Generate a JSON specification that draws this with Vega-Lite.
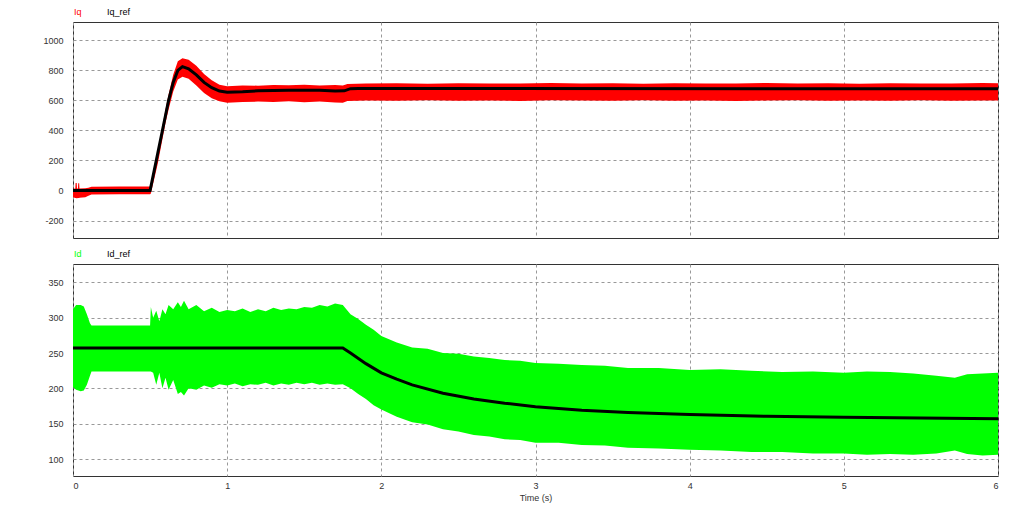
{
  "$schema": "https://vega.github.io/schema/vega-lite/v6.json",
  "background": "white",
  "padding": {"left": 42, "top": 6, "right": 20, "bottom": 10},
  "config": {
    "font": "Liberation Sans",
    "view": {"stroke": "#333333", "strokeWidth": 1},
    "axis": {
      "labelFont": "Liberation Sans",
      "labelFontSize": 9,
      "labelColor": "#333333",
      "labelOverlap": false,
      "labelExpr": "'' + datum.value",
      "tickCount": 20,
      "ticks": false,
      "tickSize": 0,
      "domain": false,
      "grid": true,
      "gridColor": "#999999",
      "gridDash": [3, 3],
      "gridWidth": 1,
      "labelPadding": 10
    },
    "legend": {"padding": 0, "offset": 0}
  },
  "datasets": {
    "iq": [
      {"t": 0, "lo": -45, "hi": 12},
      {"t": 0.015, "lo": -50, "hi": 14},
      {"t": 0.017, "lo": -50, "hi": 50},
      {"t": 0.024, "lo": -52, "hi": 50},
      {"t": 0.026, "lo": -52, "hi": 14},
      {"t": 0.032, "lo": -50, "hi": 14},
      {"t": 0.034, "lo": -50, "hi": 48},
      {"t": 0.04, "lo": -50, "hi": 48},
      {"t": 0.042, "lo": -48, "hi": 14},
      {"t": 0.08, "lo": -45, "hi": 15},
      {"t": 0.1, "lo": -35, "hi": 18},
      {"t": 0.12, "lo": -26, "hi": 26},
      {"t": 0.3, "lo": -25, "hi": 27},
      {"t": 0.5, "lo": -25, "hi": 27},
      {"t": 0.505, "lo": -20, "hi": 40},
      {"t": 0.55, "lo": 180, "hi": 260},
      {"t": 0.6, "lo": 450, "hi": 540},
      {"t": 0.62, "lo": 540, "hi": 640},
      {"t": 0.65, "lo": 660, "hi": 770},
      {"t": 0.68, "lo": 740, "hi": 860},
      {"t": 0.71, "lo": 757, "hi": 880},
      {"t": 0.75, "lo": 745, "hi": 870},
      {"t": 0.8, "lo": 700, "hi": 830},
      {"t": 0.85, "lo": 650, "hi": 775},
      {"t": 0.9, "lo": 615, "hi": 735},
      {"t": 0.95, "lo": 595, "hi": 705},
      {"t": 1.0, "lo": 585, "hi": 695},
      {"t": 1.1, "lo": 590, "hi": 700},
      {"t": 1.2, "lo": 592, "hi": 698},
      {"t": 1.3, "lo": 589, "hi": 703},
      {"t": 1.4, "lo": 594, "hi": 701},
      {"t": 1.5, "lo": 588, "hi": 704},
      {"t": 1.6, "lo": 592, "hi": 700},
      {"t": 1.7, "lo": 586, "hi": 702},
      {"t": 1.75, "lo": 584, "hi": 700},
      {"t": 1.78, "lo": 596, "hi": 710},
      {"t": 1.9, "lo": 600, "hi": 712},
      {"t": 2.1, "lo": 597, "hi": 714},
      {"t": 2.3, "lo": 601, "hi": 711},
      {"t": 2.5, "lo": 598, "hi": 715},
      {"t": 2.7, "lo": 600, "hi": 712},
      {"t": 2.9, "lo": 596, "hi": 713},
      {"t": 3.1, "lo": 601, "hi": 716},
      {"t": 3.3, "lo": 599, "hi": 712},
      {"t": 3.5, "lo": 597, "hi": 714},
      {"t": 3.7, "lo": 601, "hi": 711},
      {"t": 3.9, "lo": 598, "hi": 715},
      {"t": 4.1, "lo": 600, "hi": 713},
      {"t": 4.3, "lo": 596, "hi": 712},
      {"t": 4.5, "lo": 599, "hi": 716},
      {"t": 4.7, "lo": 601, "hi": 712},
      {"t": 4.9, "lo": 597, "hi": 714},
      {"t": 5.1, "lo": 600, "hi": 711},
      {"t": 5.3, "lo": 598, "hi": 715},
      {"t": 5.5, "lo": 601, "hi": 713},
      {"t": 5.7, "lo": 597, "hi": 712},
      {"t": 5.9, "lo": 599, "hi": 716},
      {"t": 6.0, "lo": 600, "hi": 714}
    ],
    "iqref": [
      {"t": 0, "v": 0},
      {"t": 0.5, "v": 0},
      {"t": 0.55, "v": 250},
      {"t": 0.6, "v": 500},
      {"t": 0.62, "v": 600},
      {"t": 0.65, "v": 720},
      {"t": 0.68, "v": 800},
      {"t": 0.71, "v": 825},
      {"t": 0.75, "v": 810},
      {"t": 0.8, "v": 770},
      {"t": 0.85, "v": 720},
      {"t": 0.9, "v": 685},
      {"t": 0.95, "v": 662},
      {"t": 1.0, "v": 655},
      {"t": 1.1, "v": 658},
      {"t": 1.2, "v": 664},
      {"t": 1.4, "v": 667},
      {"t": 1.6, "v": 668},
      {"t": 1.7, "v": 663},
      {"t": 1.76, "v": 664},
      {"t": 1.8, "v": 678},
      {"t": 1.85, "v": 680},
      {"t": 2.0, "v": 679},
      {"t": 6.0, "v": 678}
    ],
    "id": [
      {"t": 0, "lo": 202, "hi": 312},
      {"t": 0.02, "lo": 198, "hi": 318},
      {"t": 0.05, "lo": 196, "hi": 318},
      {"t": 0.07, "lo": 197, "hi": 316},
      {"t": 0.09, "lo": 205, "hi": 305},
      {"t": 0.11, "lo": 218, "hi": 292},
      {"t": 0.12, "lo": 224, "hi": 289},
      {"t": 0.5, "lo": 224, "hi": 289},
      {"t": 0.505, "lo": 224, "hi": 315},
      {"t": 0.52, "lo": 222, "hi": 300},
      {"t": 0.54, "lo": 205, "hi": 310},
      {"t": 0.56, "lo": 222, "hi": 295},
      {"t": 0.58, "lo": 200, "hi": 312},
      {"t": 0.6, "lo": 215, "hi": 305},
      {"t": 0.62, "lo": 198, "hi": 318},
      {"t": 0.65, "lo": 212, "hi": 312},
      {"t": 0.68, "lo": 192, "hi": 322},
      {"t": 0.7, "lo": 195, "hi": 315},
      {"t": 0.72, "lo": 190, "hi": 324},
      {"t": 0.75, "lo": 200, "hi": 312},
      {"t": 0.8, "lo": 198, "hi": 318},
      {"t": 0.85, "lo": 204, "hi": 309},
      {"t": 0.9, "lo": 201, "hi": 314},
      {"t": 0.95, "lo": 206, "hi": 308},
      {"t": 1.0, "lo": 204, "hi": 311},
      {"t": 1.05, "lo": 207, "hi": 309},
      {"t": 1.1, "lo": 203, "hi": 313},
      {"t": 1.15, "lo": 206, "hi": 308},
      {"t": 1.2, "lo": 205, "hi": 312},
      {"t": 1.25, "lo": 208, "hi": 309},
      {"t": 1.3, "lo": 204, "hi": 314},
      {"t": 1.35, "lo": 207, "hi": 311},
      {"t": 1.4, "lo": 205, "hi": 313},
      {"t": 1.45, "lo": 208, "hi": 312},
      {"t": 1.5, "lo": 206, "hi": 315},
      {"t": 1.55, "lo": 208, "hi": 314},
      {"t": 1.6, "lo": 205, "hi": 318},
      {"t": 1.65, "lo": 207, "hi": 316},
      {"t": 1.7, "lo": 205, "hi": 320},
      {"t": 1.75, "lo": 206, "hi": 318},
      {"t": 1.8, "lo": 200, "hi": 305},
      {"t": 1.85, "lo": 192, "hi": 298},
      {"t": 1.9, "lo": 185, "hi": 290},
      {"t": 1.95, "lo": 176, "hi": 283},
      {"t": 2.0, "lo": 170, "hi": 274},
      {"t": 2.1, "lo": 160, "hi": 265},
      {"t": 2.2, "lo": 152, "hi": 258},
      {"t": 2.3, "lo": 149, "hi": 256},
      {"t": 2.4, "lo": 142, "hi": 250},
      {"t": 2.5, "lo": 139, "hi": 249},
      {"t": 2.6, "lo": 134, "hi": 245},
      {"t": 2.7, "lo": 132, "hi": 243},
      {"t": 2.8, "lo": 128, "hi": 240},
      {"t": 2.9, "lo": 127, "hi": 239},
      {"t": 3.0, "lo": 123, "hi": 236},
      {"t": 3.15, "lo": 123, "hi": 235},
      {"t": 3.3, "lo": 120, "hi": 233},
      {"t": 3.45, "lo": 119, "hi": 232},
      {"t": 3.6, "lo": 116, "hi": 229},
      {"t": 3.8, "lo": 115, "hi": 229},
      {"t": 4.0, "lo": 113, "hi": 226},
      {"t": 4.2, "lo": 112, "hi": 227},
      {"t": 4.4, "lo": 110, "hi": 225},
      {"t": 4.6, "lo": 110, "hi": 223},
      {"t": 4.8, "lo": 108, "hi": 224},
      {"t": 5.0, "lo": 108, "hi": 222},
      {"t": 5.15, "lo": 106, "hi": 224},
      {"t": 5.3, "lo": 107, "hi": 223},
      {"t": 5.45, "lo": 106, "hi": 221},
      {"t": 5.6, "lo": 108, "hi": 218},
      {"t": 5.72, "lo": 112, "hi": 215},
      {"t": 5.8, "lo": 107, "hi": 220},
      {"t": 5.9, "lo": 105, "hi": 221},
      {"t": 6.0, "lo": 106, "hi": 222}
    ],
    "idref": [
      {"t": 0, "v": 257},
      {"t": 1.75, "v": 257},
      {"t": 1.8, "v": 250},
      {"t": 1.9, "v": 235},
      {"t": 2.0, "v": 222},
      {"t": 2.1, "v": 213},
      {"t": 2.2, "v": 205},
      {"t": 2.4, "v": 193},
      {"t": 2.6, "v": 185},
      {"t": 2.8, "v": 179},
      {"t": 3.0, "v": 174},
      {"t": 3.3, "v": 169},
      {"t": 3.6, "v": 166},
      {"t": 4.0, "v": 163},
      {"t": 4.5, "v": 160.5},
      {"t": 5.0, "v": 159},
      {"t": 5.5, "v": 158},
      {"t": 6.0, "v": 157}
    ]
  },
  "bounds": "flush",
  "spacing": 26,
  "resolve": {"scale": {"color": "independent"}, "legend": {"color": "independent"}},
  "vconcat": [
    {
      "width": 925,
      "height": 216,
      "layer": [
        {
          "data": {"name": "iq"},
          "mark": {"type": "area"},
          "encoding": {
            "x": {"field": "t", "type": "quantitative", "scale": {"domain": [0, 6], "nice": false}, "axis": {"labels": false, "title": null, "values": [0, 1, 2, 3, 4, 5, 6], "tickCount": 20}},
            "y": {"field": "lo", "type": "quantitative", "scale": {"domain": [-316, 1122], "nice": false, "zero": false}, "axis": {"values": [-200, 0, 200, 400, 600, 800, 1000], "title": null, "labelOverlap": false, "tickCount": 20}},
            "y2": {"field": "hi"},
            "color": {
              "datum": "Iq",
              "scale": {"domain": ["Iq", "Iq_ref"], "range": ["#ff0000", "#000000"]},
              "legend": {
                "orient": "none", "legendX": -8, "legendY": -15, "direction": "horizontal", "title": null,
                "symbolSize": 0, "symbolOpacity": 0, "symbolStrokeWidth": 0, "labelOffset": 0, "columnPadding": 16,
                "labelFont": "Liberation Sans", "labelFontSize": 9,
                "encode": {"labels": {"update": {"fill": {"signal": "datum.label === 'Iq' ? '#ff0000' : '#000000'"}}}}
              }
            }
          }
        },
        {
          "data": {"name": "iqref"},
          "mark": {"type": "line", "strokeWidth": 3},
          "encoding": {
            "x": {"field": "t", "type": "quantitative"},
            "y": {"field": "v", "type": "quantitative"},
            "color": {"datum": "Iq_ref"}
          }
        }
      ]
    },
    {
      "width": 925,
      "height": 212,
      "layer": [
        {
          "data": {"name": "id"},
          "mark": {"type": "area"},
          "encoding": {
            "x": {"field": "t", "type": "quantitative", "scale": {"domain": [0, 6], "nice": false}, "axis": {"values": [0, 1, 2, 3, 4, 5, 6], "tickCount": 20, "title": "Time (s)", "labelPadding": 5, "titleFont": "Liberation Sans", "titleFontSize": 9, "titleFontWeight": "normal", "titleColor": "#333333", "titlePadding": 3}},
            "y": {"field": "lo", "type": "quantitative", "scale": {"domain": [76, 376], "nice": false, "zero": false}, "axis": {"values": [100, 150, 200, 250, 300, 350], "title": null, "labelOverlap": false, "tickCount": 20}},
            "y2": {"field": "hi"},
            "color": {
              "datum": "Id",
              "scale": {"domain": ["Id", "Id_ref"], "range": ["#00ff00", "#000000"]},
              "legend": {
                "orient": "none", "legendX": -8, "legendY": -15, "direction": "horizontal", "title": null,
                "symbolSize": 0, "symbolOpacity": 0, "symbolStrokeWidth": 0, "labelOffset": 0, "columnPadding": 16,
                "labelFont": "Liberation Sans", "labelFontSize": 9,
                "encode": {"labels": {"update": {"fill": {"signal": "datum.label === 'Id' ? '#00ff00' : '#000000'"}}}}
              }
            }
          }
        },
        {
          "data": {"name": "idref"},
          "mark": {"type": "line", "strokeWidth": 3},
          "encoding": {
            "x": {"field": "t", "type": "quantitative"},
            "y": {"field": "v", "type": "quantitative"},
            "color": {"datum": "Id_ref"}
          }
        }
      ]
    }
  ]
}
